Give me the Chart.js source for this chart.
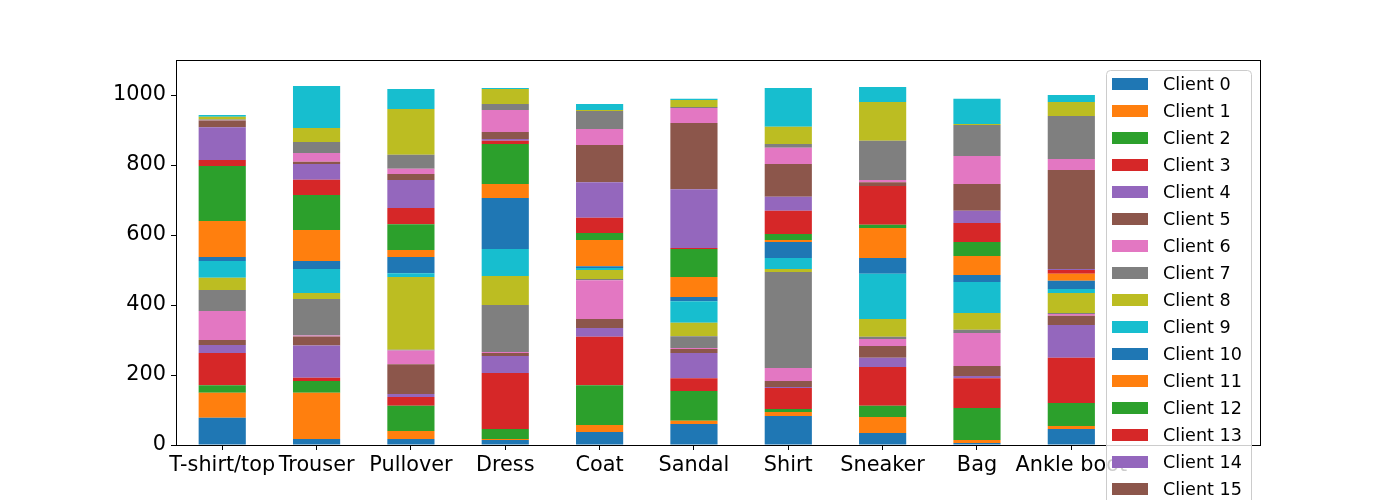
<!DOCTYPE html>
<html>
<head>
<meta charset="utf-8">
<script src="https://cdn.jsdelivr.net/npm/chart.js@4.4.1/dist/chart.umd.min.js"></script>
<style>
  html, body { margin: 0; padding: 0; background: #fff; overflow: hidden; }
  canvas { display: block; }
</style>
</head>
<body>
<canvas id="chart" width="1400" height="500"></canvas>
<script>
// 类别 (x 轴)
const categories = ['T-shirt/top', 'Trouser', 'Pullover', 'Dress', 'Coat',
                    'Sandal', 'Shirt', 'Sneaker', 'Bag', 'Ankle boot'];

// 客户端名称 Client 0 .. Client 19
const clients = ['Client 0', 'Client 1', 'Client 2', 'Client 3', 'Client 4',
                 'Client 5', 'Client 6', 'Client 7', 'Client 8', 'Client 9',
                 'Client 10', 'Client 11', 'Client 12', 'Client 13', 'Client 14',
                 'Client 15', 'Client 16', 'Client 17', 'Client 18', 'Client 19'];

// 每个类别里各客户端的样本数 (按 Client 0..19 排列)
const tshirtCounts   = [78, 71, 22, 92, 23, 14, 83, 60, 35, 48, 11, 103, 157, 17, 94, 19, 1, 2, 8, 5];
const trouserCounts  = [17, 132, 34, 9, 92, 26, 3, 104, 17, 69, 23, 88, 100, 44, 45, 6, 25, 32, 40, 120];
const pulloverCounts = [17, 23, 72, 25, 9, 85, 39, 2, 208, 11, 46, 20, 74, 46, 80, 17, 15, 40, 131, 57];
const dressCounts    = [14, 3, 29, 160, 48, 9, 3, 134, 83, 77, 146, 40, 114, 9, 5, 20, 63, 17, 43, 3];
const coatCounts     = [37, 20, 114, 138, 25, 26, 111, 3, 26, 6, 5, 75, 20, 43, 102, 106, 46, 51, 3, 17];
const sandalCounts   = [60, 9, 85, 37, 72, 11, 3, 34, 38, 62, 12, 57, 80, 3, 168, 189, 43, 3, 20, 3];
const shirtCounts    = [83, 11, 9, 60, 3, 17, 37, 274, 9, 31, 46, 6, 17, 66, 40, 94, 46, 11, 49, 111];
const sneakerCounts  = [34, 46, 32, 111, 26, 34, 20, 6, 51, 129, 45, 86, 9, 111, 0, 11, 6, 112, 111, 43];
const bagCounts      = [6, 8, 92, 85, 6, 29, 94, 9, 48, 89, 20, 54, 40, 54, 35, 77, 80, 88, 3, 72];
const ankleCounts    = [46, 8, 66, 129, 94, 26, 5, 3, 57, 12, 23, 20, 0, 11, 3, 283, 31, 123, 40, 20];

const yTicks = [0, 200, 400, 600, 800, 1000];

const COLOR_PALETTE = [
    '#1f77b4', '#ff7f0e', '#2ca02c', '#d62728', '#9467bd',
    '#8c564b', '#e377c2', '#7f7f7f', '#bcbd22', '#17becf'
];

const FONT = "'DejaVu Sans', 'Liberation Sans', sans-serif";

const byCategory = [tshirtCounts, trouserCounts, pulloverCounts, dressCounts, coatCounts,
                    sandalCounts, shirtCounts, sneakerCounts, bagCounts, ankleCounts];

// 转置: 每个客户端一个 dataset
const datasets = clients.map((name, ci) => ({
    label: name,
    data: byCategory.map((row, xi) => ({ x: xi, y: row[ci] })),
    backgroundColor: COLOR_PALETTE[ci % COLOR_PALETTE.length],
    borderWidth: 0,
    categoryPercentage: 1.0,
    barPercentage: 0.5,
    stack: 'all'
}));

// 外框 + 图例 (matplotlib 风格)
const framePlugin = {
    id: 'frame',
    afterDraw(chart) {
        const { ctx, chartArea: a } = chart;
        ctx.save();
        ctx.strokeStyle = '#000';
        ctx.lineWidth = 1;
        ctx.strokeRect(Math.round(a.left) + 0.5, Math.round(a.top) + 0.5,
                       Math.round(a.right - a.left), Math.round(a.bottom - a.top));

        // 图例
        const boxX = 1106, boxY = 70, boxW = 145, rowH = 27;
        const boxH = 14 + rowH * chart.data.datasets.length;
        ctx.fillStyle = 'rgba(255,255,255,0.8)';
        ctx.strokeStyle = '#cccccc';
        ctx.beginPath();
        ctx.roundRect(boxX + 0.5, boxY + 0.5, boxW, boxH, 4);
        ctx.fill();
        ctx.stroke();

        ctx.font = '17.6px ' + FONT;
        ctx.textBaseline = 'middle';
        ctx.textAlign = 'left';
        chart.data.datasets.forEach((ds, i) => {
            const cy = 84 + i * rowH;
            ctx.fillStyle = ds.backgroundColor;
            ctx.fillRect(1112, cy - 6, 36, 12);
            ctx.fillStyle = '#000';
            ctx.fillText(ds.label, 1163, cy + 1);
        });
        ctx.restore();
    }
};

new Chart(document.getElementById('chart'), {
    type: 'bar',
    data: { datasets },
    plugins: [framePlugin],
    options: {
        responsive: false,
        animation: false,
        devicePixelRatio: 1,
        layout: { padding: { left: 0, top: 60, right: 140, bottom: 0 } },
        plugins: {
            legend: { display: false },
            tooltip: { enabled: false }
        },
        scales: {
            x: {
                type: 'linear',
                stacked: true,
                offset: false,
                min: -0.49,
                max: 11.0,
                afterBuildTicks: s => { s.ticks = categories.map((c, i) => ({ value: i })); },
                afterFit: s => { s.height = 55; },
                grid: { offset: false, drawOnChartArea: false, drawTicks: true, tickLength: 5, color: '#000' },
                border: { display: false },
                ticks: {
                    autoSkip: false,
                    maxRotation: 0,
                    minRotation: 0,
                    padding: 3,
                    color: '#000',
                    font: { family: FONT, size: 20.8 },
                    callback: v => categories[v]
                }
            },
            y: {
                stacked: true,
                min: 0,
                max: 1100,
                afterBuildTicks: s => { s.ticks = yTicks.map(v => ({ value: v })); },
                afterFit: s => { s.width = 176; },
                grid: { drawOnChartArea: false, drawTicks: true, tickLength: 5, color: '#000' },
                border: { display: false },
                ticks: {
                    padding: 5,
                    color: '#000',
                    font: { family: FONT, size: 20.8 },
                    callback: v => String(v)
                }
            }
        }
    }
});
</script>
</body>
</html>
